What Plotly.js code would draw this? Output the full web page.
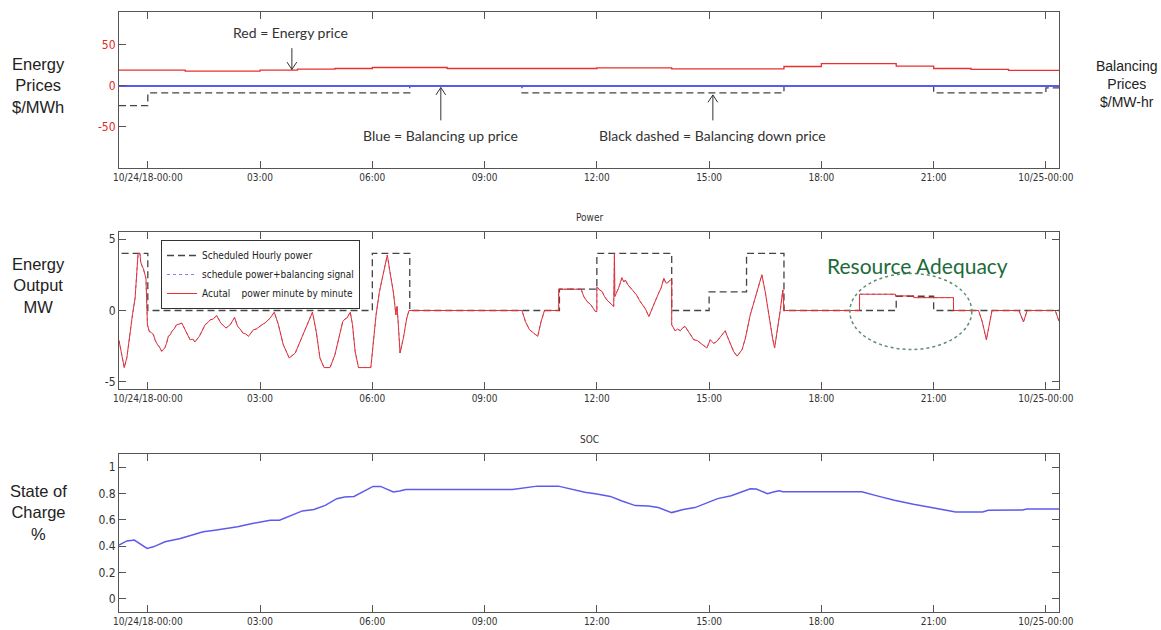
<!DOCTYPE html>
<html>
<head>
<meta charset="utf-8">
<script src="https://cdn.plot.ly/plotly-3.0.1.min.js"></script>
<style>html,body{margin:0;padding:0;background:#fff;}#chart{width:1161px;height:630px;}</style>
</head>
<body>
<div id="chart"></div>
<script>
// ---------- data (hours relative to 10/24/18-00:00) ----------
const tickHours = [0, 3, 6, 9, 12, 15, 18, 21, 24];
const tickLabels = ['10/24/18-00:00', '03:00', '06:00', '09:00', '12:00', '15:00', '18:00', '21:00', '10/25-00:00'];

const priceHours = [-0.77, 1, 3, 4, 5, 6, 8, 12, 14, 17, 18, 20, 21, 22, 23, 24.35];
const energyPrice = [19.2, 18, 19.2, 20.4, 21.2, 22.4, 21.2, 22, 20.8, 23.6, 27.2, 24, 21.2, 20, 18.8, 18.8];

const balUpHours = [-0.77, 24.35];
const balUpPrice = [0, 0];

const balDownHours = [-0.77, 0, 7, 10, 17, 21, 24, 24.35];
const balDownPrice = [-24, -8.4, 0, -8.4, 0, -8.4, -2.5, -2.5];

const schedHours = [-0.7, 0, 6, 7, 11, 12, 14, 15, 16, 17, 20, 21, 24.35];
const schedPower = [4, 0, 4, 0, 1.5, 4, 0, 1.3, 4, 0, 1.0, 0, 0];

const actualHours = [-0.77,-0.7,-0.63,-0.56,-0.49,-0.41,-0.34,-0.3,-0.26,-0.21,-0.19,-0.15,-0.12,-0.05,-0.03,-0.01,0.04,0.1,0.15,0.2,0.26,0.31,0.37,0.46,0.5,0.55,0.6,0.64,0.7,0.77,0.84,0.91,1.02,1.08,1.13,1.2,1.26,1.38,1.45,1.53,1.6,1.67,1.75,1.84,1.95,2.02,2.09,2.2,2.32,2.4,2.47,2.54,2.62,2.69,2.82,2.9,2.98,3.05,3.13,3.2,3.27,3.38,3.49,3.62,3.78,3.94,4.11,4.29,4.4,4.5,4.6,4.71,4.87,5.0,5.12,5.21,5.27,5.32,5.41,5.47,5.54,5.63,5.96,6.03,6.1,6.19,6.3,6.4,6.47,6.56,6.63,6.66,6.7,6.74,6.83,6.92,6.98,
10.0,10.09,10.2,10.31,10.42,10.51,10.6,10.98,10.98,11.58,11.65,11.74,11.84,11.96,12.0,12.0,12.07,12.14,12.2,12.27,12.4,12.45,12.47,12.48,12.58,12.67,12.72,12.76,12.83,12.9,12.98,13.06,13.14,13.21,13.3,13.39,13.45,13.52,13.6,13.65,13.72,13.79,13.84,13.88,13.96,14.0,14.0,14.09,14.16,14.23,14.3,14.36,14.45,14.52,14.59,14.68,14.77,14.85,14.94,15.03,15.12,15.21,15.35,15.43,15.5,15.57,15.66,15.75,15.88,15.97,16.1,16.2,16.3,16.41,16.5,16.6,16.7,16.75,16.82,16.9,16.97,17.0,
19.02,19.02,19.98,19.98,20.47,20.47,21.53,21.53,22.2,22.3,22.41,22.5,22.56,23.28,23.4,23.5,24.25,24.35];
const actualPower = [-2.1,-3.2,-4.0,-3.3,-1.7,-0.3,0.86,2.5,4.0,4.0,3.4,3.1,2.95,2.25,0.16,-1.0,-1.47,-1.55,-1.7,-2.1,-2.4,-2.55,-2.86,-2.6,-2.3,-1.8,-1.7,-1.47,-1.3,-1.0,-0.95,-0.88,-1.47,-1.8,-2.05,-2.0,-2.2,-1.8,-1.45,-1.0,-0.85,-0.65,-0.6,-0.35,-0.88,-1.05,-1.23,-1.0,-0.49,-1.12,-1.3,-1.58,-1.65,-1.81,-1.35,-1.3,-1.12,-1.0,-0.88,-0.7,-0.53,-0.12,-1.0,-2.4,-3.33,-2.98,-1.93,-0.88,-0.12,-1.47,-3.33,-4.0,-4.0,-3.1,-1.7,-0.77,-0.6,-0.53,-0.12,-1.0,-2.86,-4.0,-4.0,-2.16,-0.3,1.33,2.72,3.88,2.72,1.33,-0.3,0.3,-1.2,-2.98,-1.93,-0.53,0,
0,-0.77,-1.35,-1.58,-1.81,-0.77,0,0,1.49,1.49,0.98,0.63,0.4,-0.07,-0.07,1.67,1.45,1.33,1.0,0.74,0.4,0.28,4.0,0.98,1.56,2.3,2.0,2.14,1.8,1.56,1.35,1.09,0.7,0.4,0.1,-0.42,0.0,0.4,0.9,1.21,1.6,2.26,1.95,1.91,2.14,2.1,-1.0,-1.42,-1.3,-1.42,-1.2,-1.12,-1.47,-1.8,-2.05,-2.1,-2.28,-2.4,-2.63,-2.05,-2.3,-2.16,-1.7,-1.42,-1.9,-2.4,-2.9,-3.2,-2.74,-1.93,-0.3,0.6,1.5,2.5,1.3,-0.5,-2.0,-2.63,-1.5,0,1.44,0,
0,1.14,1.14,1.02,1.02,0.9,0.9,0,0,-0.8,-2.05,-0.7,0,0,-0.8,0,0,-0.75];

const socHours = [-0.77,-0.56,-0.36,-0.2,-0.02,0.15,0.46,0.87,1.17,1.48,1.79,2.09,2.4,2.7,3.01,3.27,3.52,3.83,4.13,4.44,4.74,5.05,5.26,5.51,5.77,6.02,6.22,6.38,6.56,6.73,6.89,9.74,10.05,10.41,10.97,11.38,11.68,12.0,12.36,12.67,13.03,13.38,13.64,14.0,14.31,14.62,14.97,15.23,15.59,15.85,16.1,16.26,16.41,16.56,16.72,16.87,16.97,19.08,19.54,19.95,20.46,20.97,21.44,21.59,22.31,22.46,23.38,23.49,24.35];
const socValues = [0.408,0.44,0.446,0.416,0.383,0.395,0.433,0.458,0.484,0.509,0.521,0.534,0.547,0.567,0.584,0.597,0.597,0.635,0.668,0.678,0.71,0.761,0.773,0.778,0.819,0.854,0.854,0.836,0.811,0.819,0.831,0.831,0.841,0.856,0.856,0.829,0.809,0.796,0.778,0.743,0.708,0.705,0.693,0.655,0.678,0.693,0.735,0.761,0.783,0.811,0.836,0.834,0.814,0.798,0.811,0.821,0.814,0.814,0.778,0.748,0.718,0.69,0.665,0.66,0.66,0.673,0.675,0.683,0.683];

// ---------- styling ----------
const NARROW = '"Liberation Sans Narrow", "Arial Narrow", "DejaVu Sans Condensed", sans-serif';
const SANS = '"Liberation Sans", Arial, sans-serif';
const NOTE = 'Lato, "Open Sans", sans-serif';
const XRANGE = [-0.77, 24.35];
const AX = '#555';

function xAxis(anchor) {
  return {
    anchor: anchor, domain: [0, 1], range: XRANGE,
    tickvals: tickHours, ticktext: tickLabels,
    showline: true, linecolor: AX, linewidth: 1, mirror: 'ticks',
    ticks: 'inside', ticklen: 7, tickcolor: AX,
    showgrid: false, zeroline: false,
    tickfont: { family: NARROW, size: 10, color: '#333' }
  };
}
function yAxis(domain, range, tickvals, ticktext, color, mirror) {
  return {
    domain: domain, range: range, tickvals: tickvals, ticktext: ticktext,
    showline: true, linecolor: AX, linewidth: 1, mirror: mirror,
    ticks: 'inside', ticklen: 7, tickcolor: AX,
    showgrid: false, zeroline: false,
    tickfont: { family: NARROW, size: 12, color: color }
  };
}

const traces = [
  { x: priceHours, y: energyPrice, xaxis: 'x', yaxis: 'y', mode: 'lines', line: { shape: 'hv', color: '#e8302e', width: 1.3 }, showlegend: false },
  { x: balDownHours, y: balDownPrice, xaxis: 'x', yaxis: 'y', mode: 'lines', line: { shape: 'hv', color: '#444', width: 1.3, dash: '7px,4px' }, showlegend: false },
  { x: balUpHours, y: balUpPrice, xaxis: 'x', yaxis: 'y', mode: 'lines', line: { color: '#5a5aee', width: 2 }, showlegend: false },

  { x: actualHours, y: actualPower, xaxis: 'x2', yaxis: 'y3', mode: 'lines', name: 'schedule power+balancing signal', legendrank: 2, line: { color: '#8080f0', width: 1, dash: 'dot' }, showlegend: true },
  { x: schedHours, y: schedPower, xaxis: 'x2', yaxis: 'y3', mode: 'lines', name: 'Scheduled Hourly power', legendrank: 1, line: { shape: 'hv', color: '#444', width: 1.3, dash: '7px,4px' }, showlegend: true },
  { x: actualHours, y: actualPower, xaxis: 'x2', yaxis: 'y3', mode: 'lines', name: 'Acutal\u00a0\u00a0\u00a0 power minute by minute', legendrank: 3, line: { color: '#e8302e', width: 1 }, showlegend: true },

  { x: socHours, y: socValues, xaxis: 'x3', yaxis: 'y4', mode: 'lines', line: { color: '#5c5cec', width: 1.5 }, showlegend: false }
];

function px2x(p) { return (p - 119) / 940; }
function py2y(p) { return (612 - p) / 600; }

function sideLabel(text, px, py, size) {
  return { text: text, xref: 'paper', yref: 'paper', x: px2x(px), y: py2y(py), xanchor: 'center', yanchor: 'middle', showarrow: false, font: { family: SANS, size: size, color: '#222' } };
}

const annotations = [
  sideLabel('Energy<br>Prices<br>$/MWh', 38, 85, 16.5),
  sideLabel('Balancing<br>Prices<br>$/MW-hr', 1127, 84, 14),
  sideLabel('Energy<br>Output<br>MW', 38, 285, 16.5),
  sideLabel('State of<br>Charge<br>%', 38, 512, 16.5),
  { text: 'Power', xref: 'paper', yref: 'paper', x: 0.5, y: py2y(217), xanchor: 'center', yanchor: 'middle', showarrow: false, font: { family: NARROW, size: 10, color: '#333' } },
  { text: 'SOC', xref: 'paper', yref: 'paper', x: 0.5, y: py2y(439), xanchor: 'center', yanchor: 'middle', showarrow: false, font: { family: NARROW, size: 10, color: '#333' } },
  { text: 'Red = Energy price', xref: 'x', yref: 'y', x: 3.82, y: 65, showarrow: false, font: { family: NOTE, size: 14, color: '#333' } },
  { text: 'Blue = Balancing up price', xref: 'x', yref: 'y', x: 7.83, y: -61, showarrow: false, font: { family: NOTE, size: 14, color: '#333' } },
  { text: 'Black dashed = Balancing down price', xref: 'x', yref: 'y', x: 15.1, y: -61, showarrow: false, font: { family: NOTE, size: 14, color: '#333' } },
  { text: 'Resource Adequacy', xref: 'x2', yref: 'y3', x: 20.58, y: 3.15, showarrow: false, font: { family: NOTE, size: 21, color: '#1d6b3a' } }
];

const arrowLine = { color: '#333', width: 1 };
const shapes = [
  { type: 'line', xref: 'x', yref: 'y', x0: 3.85, x1: 3.85, y0: 46, y1: 20, line: arrowLine },
  { type: 'path', xref: 'x', yref: 'y', path: 'M3.72,29 L3.85,20 L3.98,29', line: arrowLine },
  { type: 'line', xref: 'x', yref: 'y', x0: 7.83, x1: 7.83, y0: -42, y1: -2, line: arrowLine },
  { type: 'path', xref: 'x', yref: 'y', path: 'M7.70,-11 L7.83,-2 L7.96,-11', line: arrowLine },
  { type: 'line', xref: 'x', yref: 'y', x0: 15.1, x1: 15.1, y0: -42, y1: -11, line: arrowLine },
  { type: 'path', xref: 'x', yref: 'y', path: 'M14.97,-20 L15.1,-11 L15.23,-20', line: arrowLine },
  { type: 'circle', xref: 'x2', yref: 'y3', x0: 18.76, x1: 22.02, y0: -2.73, y1: 2.59, line: { color: '#5f8f70', width: 1.5, dash: 'dot' } }
];

const layout = {
  width: 1161, height: 630,
  margin: { l: 119, r: 102, t: 12, b: 18 },
  paper_bgcolor: '#fff', plot_bgcolor: '#fff',
  showlegend: true,
  legend: {
    x: px2x(161), y: py2y(240), xanchor: 'left', yanchor: 'top',
    bgcolor: '#fff', bordercolor: '#333', borderwidth: 1,
    font: { family: NARROW, size: 10, color: '#222' },
    traceorder: 'normal', tracegroupgap: 0
  },
  xaxis: xAxis('y'),
  xaxis2: xAxis('y3'),
  xaxis3: xAxis('y4'),
  yaxis: yAxis([py2y(168), py2y(12)], [-100, 90], [-50, 0, 50], ['-50', '0', '50'], '#e02a2a', true),
  yaxis2: Object.assign(yAxis([py2y(168), py2y(12)], [-100, 90], [-50, 0, 50], ['-50', '0', '50'], '#333', false), { overlaying: 'y', side: 'right', anchor: 'x', showline: false }),
  yaxis3: Object.assign(yAxis([py2y(389), py2y(232)], [-5.5, 5.5], [-5, 0, 5], ['-5', '0', '5'], '#333', 'ticks'), { anchor: 'x2' }),
  yaxis4: Object.assign(yAxis([0, py2y(454)], [-0.1, 1.1], [0, 0.2, 0.4, 0.6, 0.8, 1], ['0', '0.2', '0.4', '0.6', '0.8', '1'], '#333', 'ticks'), { anchor: 'x3' }),
  annotations: annotations,
  shapes: shapes
};
layout.yaxis.anchor = 'x';

Plotly.newPlot('chart', traces, layout, { displayModeBar: false, staticPlot: true });
</script>
</body>
</html>
